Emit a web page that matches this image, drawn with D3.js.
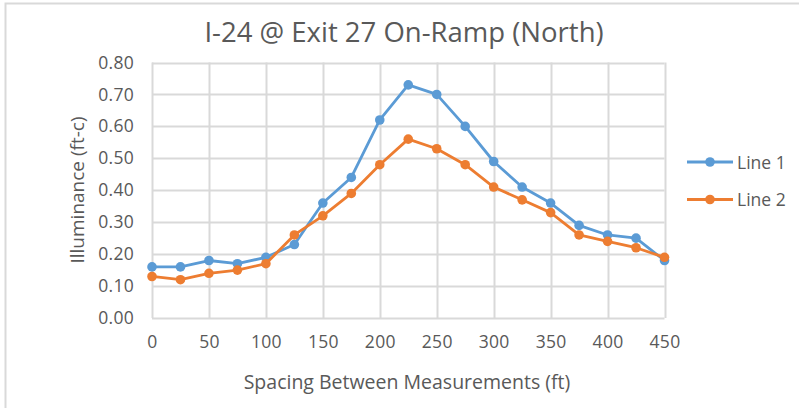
<!DOCTYPE html>
<html><head><meta charset="utf-8">
<script src="https://cdn.jsdelivr.net/npm/d3@7"></script>
<style>
body{margin:0;background:#fff;}
text{font-family:"Open Sans",sans-serif;fill:#595959;}
</style></head>
<body><svg id="c" width="799" height="408"></svg>
<script>
const xValues = [0,25,50,75,100,125,150,175,200,225,250,275,300,325,350,375,400,425,450];
const line1 = [0.16,0.16,0.18,0.17,0.19,0.23,0.36,0.44,0.62,0.73,0.70,0.60,0.49,0.41,0.36,0.29,0.26,0.25,0.18];
const line2 = [0.13,0.12,0.14,0.15,0.17,0.26,0.32,0.39,0.48,0.56,0.53,0.48,0.41,0.37,0.33,0.26,0.24,0.22,0.19];
const seriesNames = ["Line 1","Line 2"];
const seriesColors = ["#5B9BD5","#ED7D31"];
const xTicks = [0,50,100,150,200,250,300,350,400,450];
const yTicks = [0,0.1,0.2,0.3,0.4,0.5,0.6,0.7,0.8];
const title = "I-24 @ Exit 27 On-Ramp (North)";
const xTitle = "Spacing Between Measurements (ft)";
const yTitle = "Illuminance (ft-c)";

const svg = d3.select("#c");
// chart frame
svg.append("path").attr("d","M5.5,408 V3.5 H799").attr("fill","none").attr("stroke","#d9d9d9").attr("stroke-width",2);

const x = d3.scaleLinear().domain([0,450]).range([152,664.5]);
const y = d3.scaleLinear().domain([0,0.8]).range([318,62.5]);

const grid = svg.append("g");
grid.selectAll(".h").data(yTicks).join("line")
  .attr("x1",x(0)).attr("x2",x(450)).attr("y1",d=>Math.round(y(d))+0.5).attr("y2",d=>Math.round(y(d))+0.5)
  .attr("stroke","#d9d9d9").attr("stroke-width",2);
grid.selectAll(".v").data(xTicks).join("line")
  .attr("y1",y(0)).attr("y2",y(0.8)).attr("x1",d=>Math.round(x(d))+0.5).attr("x2",d=>Math.round(x(d))+0.5)
  .attr("stroke","#d9d9d9").attr("stroke-width",2);

const yAxis = d3.axisLeft(y).tickValues(yTicks).tickFormat(d3.format(".2f")).tickSize(0).tickPadding(18);
svg.append("g").attr("transform",`translate(${x(0)},0)`).call(yAxis)
  .call(g=>g.select(".domain").remove())
  .selectAll("text").style("font-size","17.5px").style("letter-spacing","0.3px").attr("fill","#595959");
const xAxis = d3.axisBottom(x).tickValues(xTicks).tickSize(0).tickPadding(18);
svg.append("g").attr("transform",`translate(0,${y(0)})`).call(xAxis)
  .call(g=>g.select(".domain").remove())
  .selectAll("text").style("font-size","17.5px").style("letter-spacing","0.3px").attr("fill","#595959");

const data = [line1,line2];
const lineGen = d3.line().x((d,i)=>x(xValues[i])).y(d=>y(d));
data.forEach((s,k)=>{
  const g = svg.append("g");
  g.append("path").datum(s).attr("d",lineGen).attr("fill","none")
    .attr("stroke",seriesColors[k]).attr("stroke-width",2.8).attr("stroke-linejoin","round");
  g.selectAll("circle").data(s).join("circle")
    .attr("cx",(d,i)=>x(xValues[i])).attr("cy",d=>y(d)).attr("r",4.8).attr("fill",seriesColors[k]);
});

svg.append("text").attr("x",404).attr("y",42).attr("text-anchor","middle")
  .style("font-size","27.5px").text(title);
svg.append("text").attr("x",407).attr("y",389).attr("text-anchor","middle")
  .style("font-size","19.5px").text(xTitle);
svg.append("text").attr("transform","translate(84,190) rotate(-90)").attr("text-anchor","middle")
  .style("font-size","19px").text(yTitle);

const leg = svg.append("g");
seriesNames.forEach((n,k)=>{
  const yy = 162 + k*37.5;
  leg.append("line").attr("x1",687).attr("x2",733).attr("y1",yy).attr("y2",yy)
    .attr("stroke",seriesColors[k]).attr("stroke-width",2.8);
  leg.append("circle").attr("cx",710).attr("cy",yy).attr("r",4.8).attr("fill",seriesColors[k]);
  leg.append("text").attr("x",737).attr("y",yy+6.5).style("font-size","17.5px").text(n);
});
</script></body></html>
